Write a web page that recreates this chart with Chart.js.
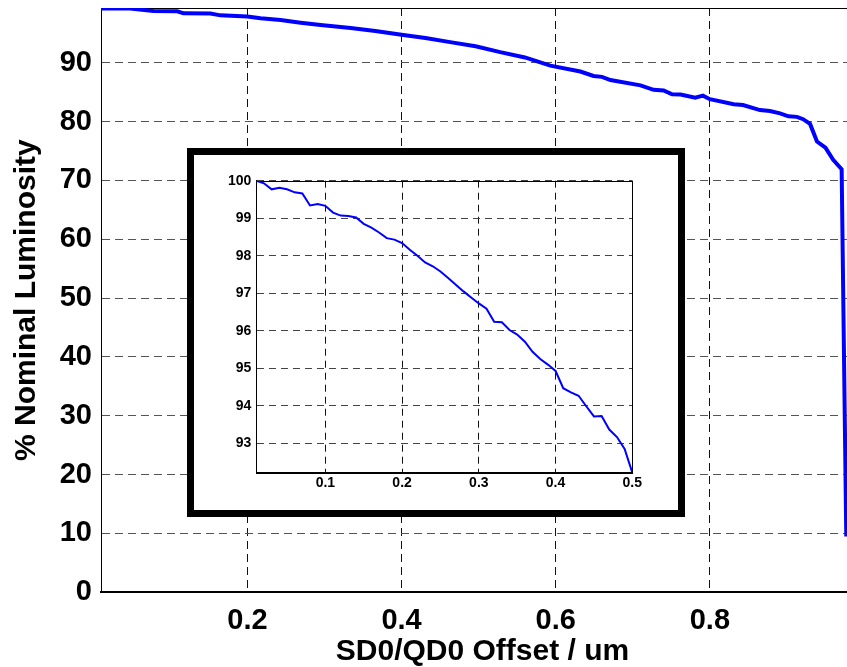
<!DOCTYPE html>
<html>
<head>
<meta charset="utf-8">
<script src="https://cdn.jsdelivr.net/npm/chart.js@4.4.0/dist/chart.umd.min.js"></script>
<style>
  html, body { margin: 0; padding: 0; background: #fff; overflow: hidden; }
  #wrap { position: relative; width: 847px; height: 667px; overflow: hidden; }
  #main_chart { position: absolute; left: 0; top: 0; }
  #inset_box { position: absolute; left: 187px; top: 148px; width: 484px; height: 355px; border: 7px solid #000; background: #fff; }
  #inset_chart { position: absolute; left: 0; top: 0; }
</style>
</head>
<body>
<div id="wrap">
  <canvas id="main_chart" width="870" height="667"></canvas>
  <div id="inset_box"><canvas id="inset_chart" width="484" height="355"></canvas></div>
</div>
<script>
// main curve
const mainX = [0.01, 0.048, 0.078, 0.109, 0.117, 0.152, 0.165, 0.2, 0.217, 0.243, 0.269, 0.295, 0.334, 0.366, 0.4,
  0.431, 0.463, 0.496, 0.528, 0.56, 0.593, 0.632, 0.649, 0.66, 0.671, 0.71, 0.727, 0.74, 0.751, 0.762, 0.781, 0.791,
  0.8, 0.831, 0.843, 0.865, 0.878, 0.891, 0.902, 0.913, 0.921, 0.93, 0.939, 0.95, 0.96, 0.971, 0.977];
const mainY = [99.2, 99.2, 98.8, 98.75, 98.4, 98.35, 98.05, 97.85, 97.55, 97.25, 96.8, 96.4, 95.9, 95.4, 94.75,
  94.2, 93.5, 92.8, 91.8, 90.9, 89.5, 88.5, 87.75, 87.6, 87.05, 86.15, 85.4, 85.3, 84.65, 84.6, 84.05, 84.4,
  83.8, 82.95, 82.8, 81.95, 81.8, 81.4, 80.9, 80.8, 80.4, 79.6, 76.6, 75.55, 73.5, 71.9, 9.5];

const mainXTicks = [0.2, 0.4, 0.6, 0.8, 1.0];
const mainXTickLabels = ['0.2', '0.4', '0.6', '0.8', '1'];
const mainYTicks = [0, 10, 20, 30, 40, 50, 60, 70, 80, 90];
const mainYTickLabels = ['0', '10', '20', '30', '40', '50', '60', '70', '80', '90'];

// zoomed curve (inset)
const insetX = [0.01, 0.02, 0.03, 0.04, 0.05, 0.06, 0.07, 0.08, 0.09, 0.10,
  0.11, 0.12, 0.13, 0.14, 0.15, 0.16, 0.17, 0.18, 0.19, 0.20,
  0.21, 0.22, 0.23, 0.24, 0.25, 0.26, 0.27, 0.28, 0.29, 0.30,
  0.31, 0.32, 0.33, 0.34, 0.35, 0.36, 0.37, 0.38, 0.39, 0.40,
  0.41, 0.42, 0.43, 0.44, 0.45, 0.46, 0.47, 0.48, 0.49, 0.50];
const insetY = [100, 99.93, 99.77, 99.81, 99.77, 99.69, 99.66, 99.34, 99.38, 99.33,
  99.15, 99.07, 99.06, 99.02, 98.85, 98.75, 98.62, 98.47, 98.43, 98.34,
  98.16, 98.0, 97.82, 97.72, 97.58, 97.41, 97.23, 97.05, 96.89, 96.73,
  96.59, 96.24, 96.23, 96.02, 95.9, 95.71, 95.44, 95.25, 95.1, 94.93,
  94.47, 94.36, 94.27, 93.99, 93.72, 93.73, 93.37, 93.17, 92.85, 92.22];

const insetXTicks = [0.1, 0.2, 0.3, 0.4, 0.5];
const insetXTickLabels = ['0.1', '0.2', '0.3', '0.4', '0.5'];
const insetYTicks = [93, 94, 95, 96, 97, 98, 99, 100];
const insetYTickLabels = ['93', '94', '95', '96', '97', '98', '99', '100'];

Chart.defaults.font.family = "'Liberation Sans', Arial, Helvetica, sans-serif";
Chart.defaults.font.weight = 'bold';
Chart.defaults.color = '#000';

// box round the axes (top + right sides)
const boxFrame = {
  id: 'boxFrame',
  beforeDatasetsDraw(chart) {
    const a = chart.chartArea, ctx = chart.ctx;
    ctx.save();
    ctx.strokeStyle = '#000';
    ctx.lineWidth = 1;
    ctx.strokeRect(Math.round(a.left) + 0.5, Math.round(a.top) + 0.5,
      Math.round(a.right - a.left), Math.round(a.bottom - a.top));
    ctx.restore();
  }
};

const fixBox = function (size, horiz) {
  return function (scale) {
    if (horiz) {
      scale.height = size; scale.paddingLeft = 0; scale.paddingRight = 0;
    } else {
      scale.width = size; scale.paddingTop = 0; scale.paddingBottom = 0;
    }
  };
};

const toPoints = (xs, ys) => xs.map((x, i) => ({ x: x, y: ys[i] }));
const setTicks = (vals) => function (s) { s.ticks = vals.map(v => ({ value: v })); };

new Chart(document.getElementById('main_chart').getContext('2d'), {
  type: 'line',
  data: {
    datasets: [{
      data: toPoints(mainX, mainY),
      borderColor: '#0000ff',
      borderWidth: 4,
      pointRadius: 0,
      tension: 0,
      fill: false
    }]
  },
  options: {
    responsive: false,
    animation: false,
    devicePixelRatio: 1,
    layout: { padding: { left: 0, top: 8, right: 6, bottom: 0 } },
    plugins: { legend: { display: false }, tooltip: { enabled: false } },
    scales: {
      x: {
        type: 'linear', min: 0.01, max: 1.0, bounds: 'data',
        afterBuildTicks: setTicks(mainXTicks),
        afterFit: fixBox(74.7, true),
        grid: { color: '#111', lineWidth: 1, drawTicks: false },
        border: { color: '#000', width: 2, dash: [8, 5] },
        ticks: { padding: 11, autoSkip: false, maxRotation: 0, font: { size: 29, weight: 'bold' },
          callback: (v, i) => mainXTickLabels[i] },
        title: { display: true, text: 'SD0/QD0 Offset / um', padding: 0,
          font: { size: 30, weight: 'bold', lineHeight: 1 } }
      },
      y: {
        type: 'linear', min: 0, max: 99.3, bounds: 'data',
        afterBuildTicks: setTicks(mainYTicks),
        afterFit: fixBox(101, false),
        grid: { color: '#555', lineWidth: 1, drawTicks: false },
        border: { color: '#000', width: 1, dash: [8, 5] },
        ticks: { padding: 9, autoSkip: false, font: { size: 29, weight: 'bold' },
          callback: (v, i) => mainYTickLabels[i] },
        title: { display: true, text: '% Nominal Luminosity', padding: { top: 12, bottom: 0 },
          font: { size: 30, weight: 'bold', lineHeight: 1 } }
      }
    }
  },
  plugins: [boxFrame]
});

new Chart(document.getElementById('inset_chart').getContext('2d'), {
  type: 'line',
  data: {
    datasets: [{
      data: toPoints(insetX, insetY),
      borderColor: '#0000ff',
      borderWidth: 2,
      pointRadius: 0,
      tension: 0,
      fill: false
    }]
  },
  options: {
    responsive: false,
    animation: false,
    devicePixelRatio: 1,
    layout: { padding: { left: 0, top: 25.7, right: 45.7, bottom: 0 } },
    plugins: { legend: { display: false }, tooltip: { enabled: false } },
    scales: {
      x: {
        type: 'linear', min: 0.01, max: 0.5, bounds: 'data',
        afterBuildTicks: setTicks(insetXTicks),
        afterFit: fixBox(37.7, true),
        grid: { color: '#111', lineWidth: 1, drawTicks: false },
        border: { color: '#000', width: 1, dash: [7, 5] },
        ticks: { padding: 2.5, autoSkip: false, maxRotation: 0, font: { size: 14, weight: 'bold' },
          callback: (v, i) => insetXTickLabels[i] }
      },
      y: {
        type: 'linear', min: 92.23, max: 100, bounds: 'data',
        afterBuildTicks: setTicks(insetYTicks),
        afterFit: fixBox(62.3, false),
        grid: { color: '#444', lineWidth: 1, drawTicks: false },
        border: { color: '#000', width: 1, dash: [7, 5] },
        ticks: { padding: 5, autoSkip: false, font: { size: 14, weight: 'bold' },
          callback: (v, i) => insetYTickLabels[i] }
      }
    }
  },
  plugins: [boxFrame]
});
</script>
</body>
</html>
